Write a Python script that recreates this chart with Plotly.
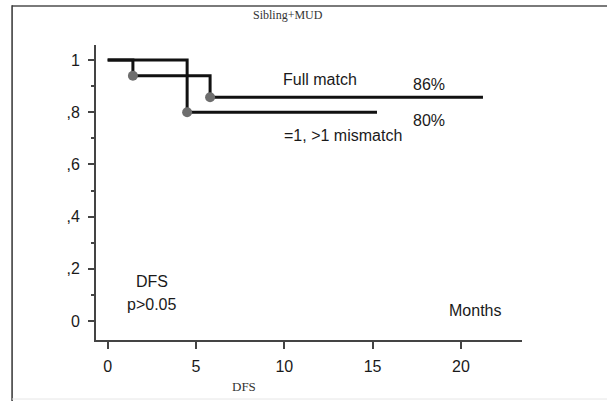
import plotly.graph_objects as go

# Data
full_x = [0, 1.43, 5.8, 21.25]
full_y = [1.0, 0.94, 0.857, 0.857]
mis_x = [0, 4.5, 15.25]
mis_y = [1.0, 0.8, 0.8]
dot_x = [1.43, 5.8, 4.5]
dot_y = [0.94, 0.857, 0.8]

x_ticks = [0, 5, 10, 15, 20]
y_ticks = [0, 0.2, 0.4, 0.6, 0.8, 1.0]
y_tick_text = ["0", ",2", ",4", ",6", ",8", "1"]

fig = go.Figure()
fig.add_trace(go.Scatter(x=full_x, y=full_y, mode="lines", line=dict(shape="hv", color="#111", width=3), showlegend=False))
fig.add_trace(go.Scatter(x=mis_x, y=mis_y, mode="lines", line=dict(shape="hv", color="#111", width=3), showlegend=False))
fig.add_trace(go.Scatter(x=dot_x, y=dot_y, mode="markers", marker=dict(color="#6e6e6e", size=10), showlegend=False))

font = "Liberation Sans, Arial, sans-serif"
serif = "Liberation Serif, Times New Roman, serif"

ann = [
    dict(x=12.0, y=0.925, text="Full match"),
    dict(x=18.2, y=0.908, text="86%"),
    dict(x=18.2, y=0.77, text="80%"),
    dict(x=13.3, y=0.71, text="=1, >1 mismatch"),
    dict(x=2.5, y=0.152, text="DFS"),
    dict(x=2.47, y=0.062, text="p>0.05"),
    dict(x=20.8, y=0.042, text="Months"),
]
annotations = [dict(xref="x", yref="y", showarrow=False, font=dict(family=font, size=16, color="#1a1a1a"), xanchor="center", yanchor="middle", **a) for a in ann]
annotations.append(dict(xref="paper", yref="paper", x=0.451, y=1.10, text="Sibling+MUD", showarrow=False,
                        font=dict(family=serif, size=12, color="#333"), xanchor="center", yanchor="middle"))
annotations.append(dict(xref="paper", yref="paper", x=0.347, y=-0.159, text="DFS", showarrow=False,
                        font=dict(family=serif, size=13, color="#333"), xanchor="center", yanchor="middle"))

shapes = [
    dict(type="line", xref="paper", yref="paper", x0=-0.197, x1=1.3, y0=1.132, y1=1.132, line=dict(color="#7a7a7a", width=2)),
    dict(type="line", xref="paper", yref="paper", x0=-0.197, x1=-0.197, y0=1.135, y1=-0.21, line=dict(color="#333", width=1.5)),
    dict(type="line", xref="paper", yref="paper", x0=-0.197, x1=1.3, y0=-0.2, y1=-0.2, line=dict(color="#e6e6e6", width=1)),
]

fig.update_layout(
    width=607, height=401,
    margin=dict(l=96, r=85, t=45, b=61),
    paper_bgcolor="white", plot_bgcolor="white",
    annotations=annotations, shapes=shapes,
    xaxis=dict(range=[-0.66, 23.46], tickvals=x_ticks, ticks="outside", ticklen=7, tickwidth=2, tickcolor="#444",
               showline=True, linecolor="#444", linewidth=2, showgrid=False, zeroline=False, ticklabelstandoff=4,
               tickfont=dict(family=font, size=16, color="#1a1a1a")),
    yaxis=dict(range=[-0.0728, 1.0575], tickvals=y_ticks, ticktext=y_tick_text, ticks="outside", ticklen=6, tickwidth=2,
               tickcolor="#444", showline=True, linecolor="#444", linewidth=2, showgrid=False, zeroline=False,
               ticklabelstandoff=5,
               minor=dict(tickvals=[0.1, 0.3, 0.5, 0.7, 0.9], ticks="outside", ticklen=3, tickwidth=2, tickcolor="#444"),
               tickfont=dict(family=font, size=16, color="#1a1a1a")),
)

fig.write_html("out.html")
